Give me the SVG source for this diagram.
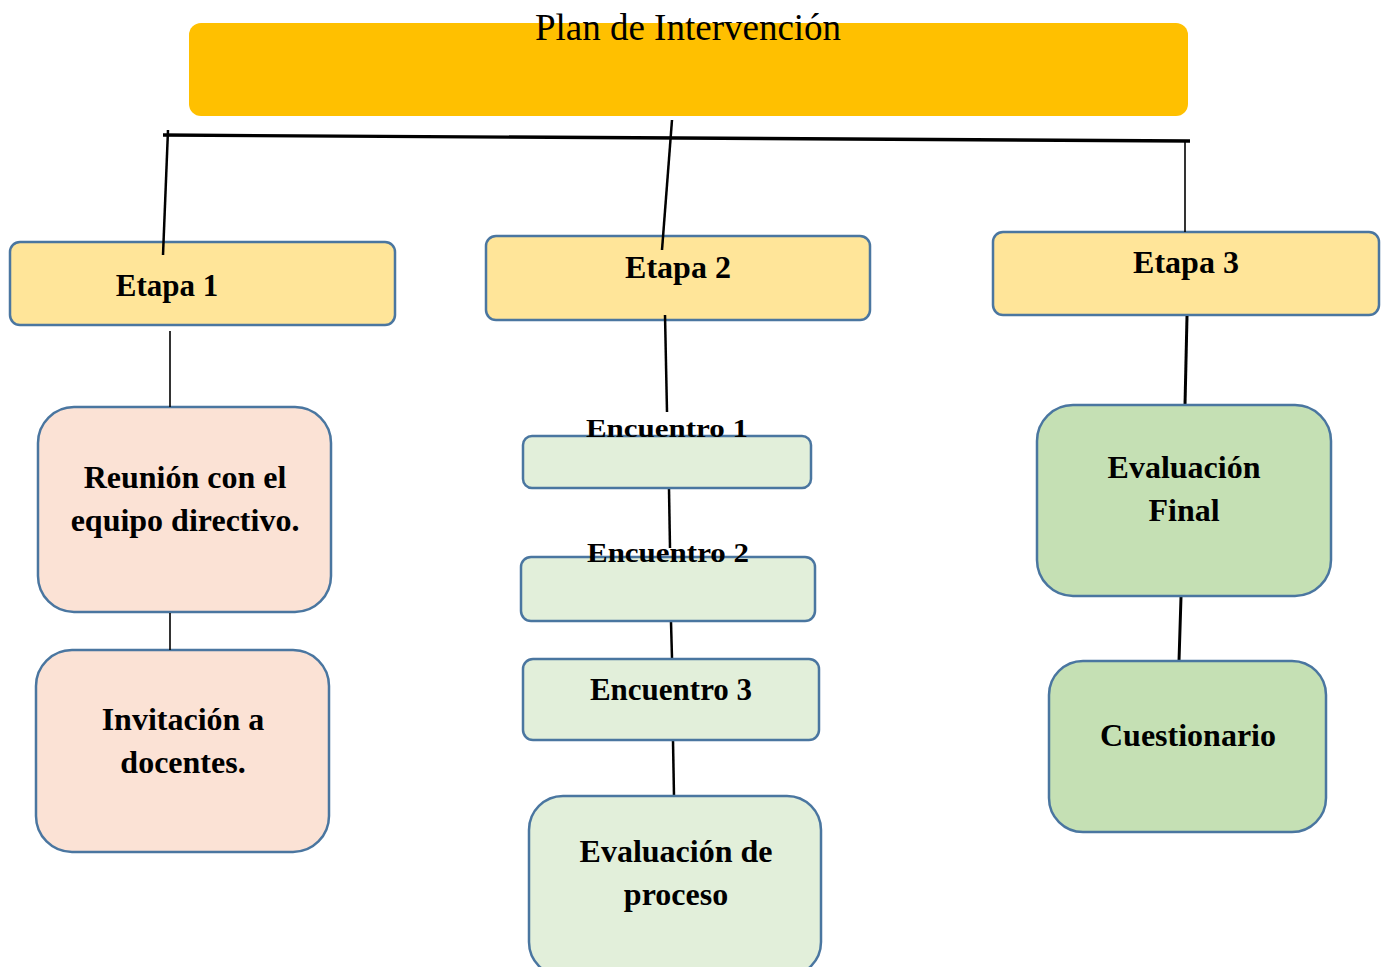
<svg xmlns="http://www.w3.org/2000/svg" width="1383" height="967" viewBox="0 0 1383 967">
<style>
.bx{stroke:#4A76A0;stroke-width:2.5}
.et{fill:#FFE599}
.pk{fill:#FBE2D5}
.lg{fill:#E2EFDA}
.dg{fill:#C5E0B4}
.t{font-family:"Liberation Serif","Times New Roman",serif;font-weight:bold;font-size:32px;fill:#000;text-anchor:middle}
.ln{stroke:#000;stroke-width:2.5;fill:none}
.thin{stroke:#000;stroke-width:1.6;fill:none}
</style>
<rect width="1383" height="967" fill="#fff"/>
<g id="root">
<rect x="189" y="23" width="999" height="93" rx="12" fill="#FFC000"/>
<text x="688" y="40" style="font-family:'Liberation Serif','Times New Roman',serif;font-size:37px;text-anchor:middle;fill:#000">Plan de Intervención</text>
</g>
<g id="etapa1">
<rect class="bx et" x="10" y="242" width="385" height="83" rx="10"/>
<text class="t" x="167" y="296" style="font-size:31px">Etapa 1</text>
</g>
<g id="etapa2">
<rect class="bx et" x="486" y="236" width="384" height="84" rx="10"/>
<text class="t" x="678" y="278">Etapa 2</text>
</g>
<g id="etapa3">
<rect class="bx et" x="993" y="232" width="386" height="83" rx="10"/>
<text class="t" x="1186" y="273">Etapa 3</text>
</g>
<g id="reunion">
<rect class="bx pk" x="38" y="407" width="293" height="205" rx="36"/>
<text class="t" x="185" y="488">Reunión con el</text>
<text class="t" x="185" y="531">equipo directivo.</text>
</g>
<g id="invitacion">
<rect class="bx pk" x="36" y="650" width="293" height="202" rx="36"/>
<text class="t" x="183" y="730">Invitación a</text>
<text class="t" x="183" y="773">docentes.</text>
</g>
<g id="connectors">
<path class="ln" style="stroke-width:3.3" d="M163 135 L1190 141"/>
<path class="ln" d="M168 130 L163 255"/>
<path class="ln" d="M672 120 L662 250"/>
<path class="thin" d="M1185 142 L1185 232"/>
<path class="thin" d="M170 331 L170 407"/>
<path class="thin" d="M170 613 L170 650"/>
<path class="ln" d="M665 315 L667 412"/>
<path class="ln" d="M669 489 L670 548"/>
<path class="ln" d="M671 622 L672 658"/>
<path class="ln" d="M673 741 L674 796"/>
<path class="ln" style="stroke-width:3" d="M1187 316 L1185 405"/>
<path class="ln" style="stroke-width:3" d="M1181 597 L1179 661"/>
</g>
<g id="encuentro1">
<rect class="bx lg" x="523" y="436" width="288" height="52" rx="9"/>
<text class="t" transform="translate(667,437) scale(1,0.82)" x="0" y="0" style="font-size:31px">Encuentro 1</text>
</g>
<g id="encuentro2">
<rect class="bx lg" x="521" y="557" width="294" height="64" rx="10"/>
<text class="t" transform="translate(668,562) scale(1,0.85)" x="0" y="0" style="font-size:31px">Encuentro 2</text>
</g>
<g id="encuentro3">
<rect class="bx lg" x="523" y="659" width="296" height="81" rx="10"/>
<text class="t" x="671" y="700" style="font-size:31px">Encuentro 3</text>
</g>
<g id="evalproceso">
<rect class="bx lg" x="529" y="796" width="292" height="180" rx="34"/>
<text class="t" x="676" y="862">Evaluación de</text>
<text class="t" x="676" y="905">proceso</text>
</g>
<g id="evalfinal">
<rect class="bx dg" x="1037" y="405" width="294" height="191" rx="36"/>
<text class="t" x="1184" y="478">Evaluación</text>
<text class="t" x="1184" y="521">Final</text>
</g>
<g id="cuestionario">
<rect class="bx dg" x="1049" y="661" width="277" height="171" rx="34"/>
<text class="t" x="1188" y="746">Cuestionario</text>
</g>
</svg>
